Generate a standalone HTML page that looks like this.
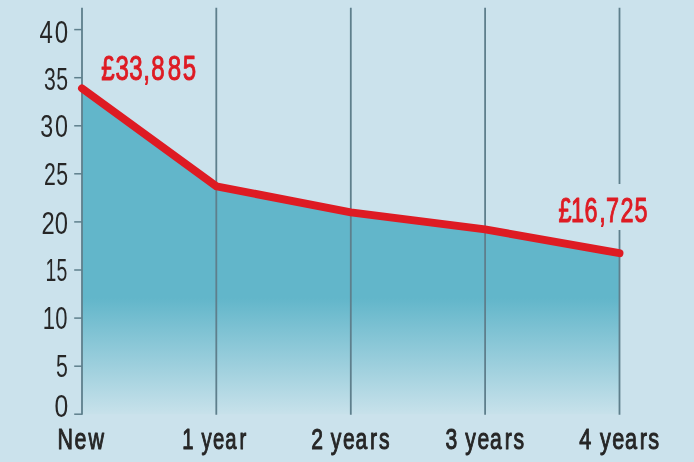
<!DOCTYPE html>
<html lang="en">
<head>
<meta charset="utf-8">
<title>Depreciation chart</title>
<style>
html,body{margin:0;padding:0;background:#cbe2ec;}
body{width:694px;height:462px;overflow:hidden;}
svg{display:block;}
text{font-family:"Liberation Sans",sans-serif;white-space:pre;}
.yl{fill:#262626;}
.xl{fill:#262626;stroke:#262626;stroke-width:0.9px;vector-effect:non-scaling-stroke;stroke-linejoin:round;}
.val{fill:#de1b23;stroke:#de1b23;stroke-width:0.9px;vector-effect:non-scaling-stroke;stroke-linejoin:round;}
</style>
</head>
<body>
<svg width="694" height="462" viewBox="0 0 694 462">
<defs>
<linearGradient id="g" gradientUnits="userSpaceOnUse" x1="0" y1="298" x2="0" y2="416">
<stop offset="0" stop-color="#62b6ca"/>
<stop offset="1" stop-color="#c9e2eb"/>
</linearGradient>
</defs>
<rect width="694" height="462" fill="#cbe2ec"/>
<path d="M82.0,88.4 L216.3,186.3 L350.8,212.4 L485.1,229.4 L619.5,253.2 L619.5,414.2 L82.0,414.2 Z" fill="url(#g)"/>
<path d="M82.0,7.8 V414.8" stroke="#5e7f8c" stroke-width="1.8" fill="none"/>
<path d="M216.3,7.8 V414.8" stroke="#5e7f8c" stroke-width="1.8" fill="none"/>
<path d="M350.8,7.8 V414.8" stroke="#5e7f8c" stroke-width="1.8" fill="none"/>
<path d="M485.1,7.8 V414.8" stroke="#5e7f8c" stroke-width="1.8" fill="none"/>
<path d="M619.5,7.8 V184 M619.5,230 V414.8" stroke="#5e7f8c" stroke-width="1.8" fill="none"/>
<path d="M74.2,414.2 H82.0" stroke="#5e7f8c" stroke-width="1.5" fill="none"/>
<path d="M74.2,366.2 H82.0" stroke="#5e7f8c" stroke-width="1.5" fill="none"/>
<path d="M74.2,318.1 H82.0" stroke="#5e7f8c" stroke-width="1.5" fill="none"/>
<path d="M74.2,270.0 H82.0" stroke="#5e7f8c" stroke-width="1.5" fill="none"/>
<path d="M74.2,221.9 H82.0" stroke="#5e7f8c" stroke-width="1.5" fill="none"/>
<path d="M74.2,173.8 H82.0" stroke="#5e7f8c" stroke-width="1.5" fill="none"/>
<path d="M74.2,125.8 H82.0" stroke="#5e7f8c" stroke-width="1.5" fill="none"/>
<path d="M74.2,77.7 H82.0" stroke="#5e7f8c" stroke-width="1.5" fill="none"/>
<path d="M74.2,29.6 H82.0" stroke="#5e7f8c" stroke-width="1.5" fill="none"/>
<path d="M82.0,88.4 L216.3,186.3 L350.8,212.4 L485.1,229.4 L619.5,253.2" stroke="#de1b23" stroke-width="7.9" stroke-linecap="round" stroke-linejoin="miter" fill="none"/>
<text class="yl" font-size="31.0" transform="translate(0,43.0) scale(0.775,1)" x="50.9 70.6">40</text>
<text class="yl" font-size="31.0" transform="translate(0,89.7) scale(0.684,1)" x="64.5 82.4">35</text>
<text class="yl" font-size="31.0" transform="translate(0,136.8) scale(0.752,1)" x="53.7 73.0">30</text>
<text class="yl" font-size="31.0" transform="translate(0,184.8) scale(0.684,1)" x="64.4 82.2">25</text>
<text class="yl" font-size="31.0" transform="translate(0,233.7) scale(0.767,1)" x="54.1 71.4">20</text>
<text class="yl" font-size="31.0" transform="translate(0,280.8) scale(0.627,1)" x="72.7 90.0">15</text>
<text class="yl" font-size="31.0" transform="translate(0,328.8) scale(0.710,1)" x="60.3 77.9">10</text>
<text class="yl" font-size="31.0" transform="translate(0,376.8) scale(0.687,1)" x="81.4">5</text>
<text class="yl" font-size="31.0" transform="translate(0,416.7) scale(0.796,1)" x="68.5">0</text>
<text class="xl" font-size="30.0" transform="translate(0,448.6) scale(0.715,1)" x="80.3 104.3 123.8">New</text>
<text class="xl" font-size="30.0" transform="translate(0,448.6) scale(0.676,1)" x="269.5 279.5 298.0 315.1 333.2 354.4">1 year</text>
<text class="xl" font-size="30.0" transform="translate(0,448.6) scale(0.705,1)" x="441.4 451.4 469.0 486.5 504.2 525.0 537.5">2 years</text>
<text class="xl" font-size="30.0" transform="translate(0,448.6) scale(0.705,1)" x="632.0 642.0 659.9 677.3 695.1 716.1 728.4">3 years</text>
<text class="xl" font-size="30.0" transform="translate(0,448.6) scale(0.723,1)" x="801.3 811.3 829.9 846.9 864.4 884.8 896.7">4 years</text>
<text class="val" font-size="34.7" transform="translate(0,79.6) scale(0.693,1)" x="146.2 166.5 186.5 206.7 218.2 242.0 263.6">£33,885</text>
<text class="val" font-size="34.7" transform="translate(0,221.7) scale(0.675,1)" x="827.6 846.1 866.0 887.8 897.7 919.2 940.1">£16,725</text>
</svg>
</body>
</html>
